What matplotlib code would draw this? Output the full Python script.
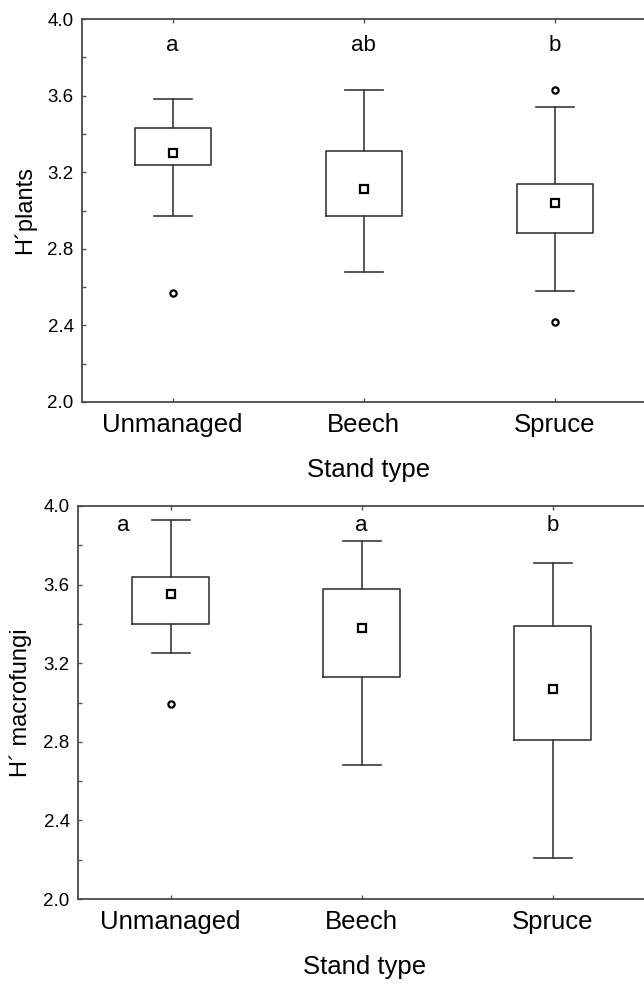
import matplotlib
matplotlib.use("Agg")
import matplotlib.pyplot as plt
from matplotlib.ticker import MultipleLocator

plt.rcParams["font.family"] = ["Liberation Sans", "DejaVu Sans"]

categories = ["Unmanaged", "Beech", "Spruce"]

# H' plants
plants_whislo = [2.97, 2.68, 2.58]
plants_q1 = [3.24, 2.97, 2.88]
plants_mean = [3.30, 3.11, 3.04]
plants_q3 = [3.43, 3.31, 3.14]
plants_whishi = [3.58, 3.63, 3.54]
plants_fliers = [[2.57], [], [3.63, 2.42]]
plants_letters = ["a", "ab", "b"]

# H' macrofungi
fungi_whislo = [3.25, 2.68, 2.21]
fungi_q1 = [3.40, 3.13, 2.81]
fungi_mean = [3.55, 3.38, 3.07]
fungi_q3 = [3.64, 3.58, 3.39]
fungi_whishi = [3.93, 3.82, 3.71]
fungi_fliers = [[2.99], [], []]
fungi_letters = ["a", "a", "b"]

edge = "#3a3a3a"


def make_stats(lo, q1, mean, q3, hi, fliers):
    stats = []
    for i in range(len(lo)):
        stats.append({"whislo": lo[i], "q1": q1[i], "med": mean[i], "mean": mean[i],
                      "q3": q3[i], "whishi": hi[i], "fliers": fliers[i]})
    return stats


def draw_panel(ax, stats, letters, letter_x, letter_y, ylabel, xmin):
    ax.bxp(stats, positions=[1, 2, 3], widths=0.4, showmeans=True,
           boxprops=dict(color=edge, linewidth=1.2),
           whiskerprops=dict(color=edge, linewidth=1.2),
           capprops=dict(color=edge, linewidth=1.2),
           capwidths=0.2,
           medianprops=dict(visible=False),
           meanprops=dict(marker="s", markersize=5.5, markerfacecolor="white",
                          markeredgecolor="black", markeredgewidth=1.6),
           flierprops=dict(marker="o", markersize=4.5, markerfacecolor="white",
                           markeredgecolor="black", markeredgewidth=1.6))
    ax.set_xlim(xmin, xmin + 3)
    ax.set_ylim(2.0, 4.0)
    ax.yaxis.set_major_locator(MultipleLocator(0.4))
    ax.yaxis.set_minor_locator(MultipleLocator(0.2))
    ax.set_xticks([1, 2, 3])
    ax.set_xticklabels(categories, fontsize=18.5)
    ax.tick_params(axis="y", which="both", direction="in", length=3, width=1,
                   color="#555555", labelsize=13.5, pad=6)
    ax.tick_params(axis="x", direction="in", length=3, width=1, top=True,
                   color="#555555", pad=8)
    for s in ax.spines.values():
        s.set_color("#4a4a4a")
        s.set_linewidth(1.3)
    ax.set_xlabel("Stand type", fontsize=18.5, labelpad=15)
    ax.set_ylabel(ylabel, fontsize=17, labelpad=8)
    for x, t in zip(letter_x, letters):
        ax.text(x, letter_y, t, ha="center", va="center", fontsize=16)


fig = plt.figure(figsize=(6.44, 9.85), dpi=100)
ax1 = fig.add_axes([82 / 644, 1 - 402 / 985, 573 / 644, 383 / 985])
ax2 = fig.add_axes([78 / 644, 1 - 899 / 985, 573 / 644, 393 / 985])

draw_panel(ax1, make_stats(plants_whislo, plants_q1, plants_mean, plants_q3,
                           plants_whishi, plants_fliers),
           plants_letters, [1, 2, 3], 3.86, "H\u00b4plants", 0.525)
draw_panel(ax2, make_stats(fungi_whislo, fungi_q1, fungi_mean, fungi_q3,
                           fungi_whishi, fungi_fliers),
           fungi_letters, [0.75, 2, 3], 3.90, "H\u00b4 macrofungi", 0.515)

fig.savefig("out.png", dpi=100)
